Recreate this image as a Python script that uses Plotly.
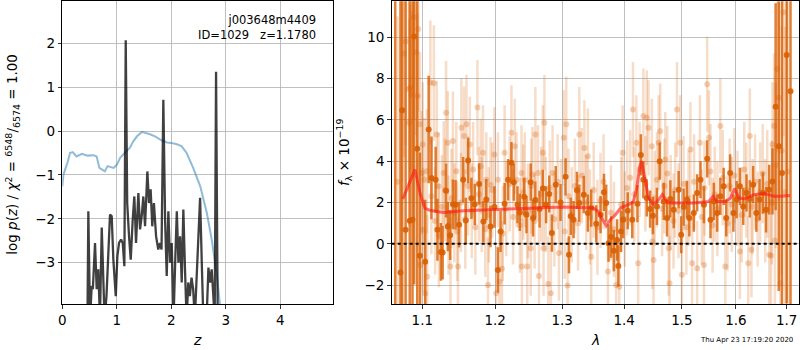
import plotly.graph_objects as go

# ---------------- left panel data ----------------
chi_z = [0.0, 0.02, 0.05, 0.10, 0.14, 0.19, 0.26, 0.31, 0.36, 0.46, 0.57, 0.63, 0.68, 0.78, 0.83,
         0.94, 1.0, 1.06, 1.18, 1.24, 1.3, 1.37, 1.46, 1.55, 1.62, 1.7, 1.82, 1.92, 2.0, 2.1, 2.19,
         2.28, 2.4, 2.53, 2.65, 2.74, 2.83, 2.89, 2.95]
chi_v = [-1.26, -1.0, -0.88, -0.7, -0.5, -0.48, -0.58, -0.54, -0.52, -0.56, -0.55, -0.58, -0.84,
         -0.92, -0.8, -0.84, -0.77, -0.61, -0.46, -0.38, -0.24, -0.12, -0.02, -0.05, -0.08, -0.12,
         -0.21, -0.26, -0.27, -0.3, -0.35, -0.5, -0.84, -1.26, -1.86, -2.47, -3.23, -3.93, -4.7]

pz_z = [0.45, 0.46, 0.477, 0.508, 0.539, 0.56, 0.6, 0.63, 0.66, 0.69, 0.723, 0.752, 0.775, 0.81,
        0.845, 0.875, 0.906, 0.936, 0.98, 1.01, 1.04, 1.077, 1.108, 1.138, 1.163, 1.19, 1.224,
        1.255, 1.291, 1.321, 1.352, 1.395, 1.426, 1.456, 1.486, 1.517, 1.56, 1.59, 1.62, 1.65,
        1.68, 1.72, 1.76, 1.79, 1.82, 1.853, 1.885, 1.915, 1.945, 1.976, 2.007, 2.04, 2.07, 2.1,
        2.13, 2.16, 2.19, 2.22, 2.25, 2.28, 2.31, 2.34, 2.37, 2.4, 2.43, 2.466, 2.495, 2.527,
        2.558, 2.587, 2.64, 2.68, 2.71, 2.74, 2.77, 2.795, 2.82, 2.85, 2.87]
pz_v = [-5.0, -4.5, -1.83, -4.3, -3.53, -3.6, -2.55, -3.6, -3.15, -4.3, -2.2, -3.23, -4.3, -3.76,
        -2.62, -1.9, -1.94, -2.93, -3.76, -2.85, -2.55, -2.47, -2.55, -3.08, 2.07, -1.64, -2.4,
        -2.93, -2.02, -1.49, -2.55, -1.41, -2.24, -1.94, -1.49, -2.17, -0.92, -1.64, -1.33, -2.17,
        -1.64, -2.4, -2.7, -2.55, -2.7, 0.71, -2.02, -3.3, -1.83, -3.0, -2.55, -4.3, -3.0, -1.83,
        -3.0, -2.4, -3.45, -1.79, -3.15, -4.3, -3.45, -3.76, -3.34, -3.6, -4.3, -3.15, -2.55,
        -1.52, -3.0, -4.3, -4.5, -3.11, -3.45, -3.15, -3.76, -4.3, 1.35, -4.3, -5.0]

z_ticks = [0, 1, 2, 3, 4]
logp_ticks = [-3, -2, -1, 0, 1, 2]

# ---------------- right panel data ----------------
lam_dark = [1.065, 1.0717, 1.0739, 1.0783, 1.0836, 1.0872, 1.0894, 1.0934, 1.0969, 1.1038, 1.1084,
            1.1121, 1.1177, 1.1201, 1.1247, 1.1271, 1.1317, 1.1340, 1.1372, 1.1410, 1.1446, 1.1494,
            1.1550, 1.1586, 1.1619, 1.1665, 1.1711, 1.1773, 1.1833, 1.1874, 1.1934, 1.1990, 1.2040,
            1.2078, 1.2137, 1.2187, 1.2236, 1.2270, 1.2325, 1.2359, 1.2424, 1.2458, 1.2521, 1.2557,
            1.2591, 1.2654, 1.2704, 1.2753, 1.2802, 1.2842, 1.2901, 1.2975, 1.3054, 1.3107, 1.3135,
            1.3179, 1.3232, 1.3270, 1.3341, 1.3406, 1.3460, 1.3541, 1.3611, 1.3666, 1.3703, 1.3741,
            1.3784, 1.3828, 1.3882, 1.3903, 1.3946, 1.3984, 1.4060, 1.4136, 1.4224, 1.4282, 1.4325,
            1.4383, 1.4441, 1.4489, 1.4559, 1.4607, 1.4677, 1.4736, 1.4794, 1.4854, 1.4942, 1.4988,
            1.5031, 1.5092, 1.5134, 1.5215, 1.5276, 1.5337, 1.5400, 1.5460, 1.5521, 1.5584, 1.5645,
            1.5705, 1.5768, 1.5816, 1.5890, 1.5952, 1.6013, 1.6076, 1.6141, 1.6204, 1.6267, 1.6332,
            1.6395, 1.6458, 1.6523, 1.6586, 1.6649, 1.6714, 1.6777, 1.6840, 1.6905, 1.7000, 1.7078]
flux_dark = [-4.0, -1.39, 6.46, 0.68, 1.12, 1.17, 10.03, 4.6, -0.58, -0.87, 5.53,
             3.19, 3.1, 0.68, -0.39, -0.42, 2.57, 0.84, 0.42, 1.91, 1.89, 0.92,
             3.1, 1.13, 4.03, 2.2, 1.91, 2.9, 1.08, 2.14, 0.84, 1.78, -1.26,
             0.6, 1.94, 3.1, 3.92, 2.98, 1.89, 1.52, 2.28, 1.41, 2.98, 1.25,
             2.12, 1.68, 2.68, 1.89, 2.41, 0.52, 2.86, 2.0, 3.24, -0.53, 1.33,
             1.17, 2.59, 1.97, 2.38, 1.49, 1.73, 0.97, 1.41, 2.49, 1.97, 0.03,
             0.33, -0.33, 0.19, -1.07, 0.6, 1.17, 1.6, 1.17, 1.94, 4.3, 3.1,
             2.22, 1.68, 1.36, 1.81, 4.0, 2.05, 1.25, 2.17, 1.65, 2.62, 0.44,
             1.78, 2.14, 1.25, 1.49, 2.46, 3.1, 1.89, 4.11, 1.17, 2.05, 1.49,
             2.3, 2.78, 1.25, 3.43, 1.49, 2.14, 2.78, 1.81, 2.46, 2.17, 2.86,
             1.49, 2.14, 2.46, 1.65, 2.62, 3.02, 6.63, 4.72, 3.43, 9.13, 7.38]
err_dark = [20, 14, 12, 14, 12, 14, 12, 9, 5, 3.0, 2.6,
            2.0, 1.6, 1.5, 1.4, 1.3, 1.3, 1.2, 1.2, 1.2, 1.2, 1.1,
            1.1, 1.1, 1.1, 1.0, 1.0, 1.0, 1.0, 1.0, 1.0, 1.0, 1.1,
            1.0, 1.0, 1.0, 1.0, 0.9, 0.9, 0.9, 0.9, 0.9, 0.9, 0.9,
            0.9, 0.9, 0.9, 0.9, 0.9, 0.9, 0.9, 0.9, 0.9, 0.9, 0.9,
            0.9, 0.9, 0.9, 0.9, 0.9, 0.9, 0.9, 0.9, 0.9, 0.9, 0.9,
            1.0, 1.0, 1.0, 1.0, 1.0, 0.9, 0.9, 0.9, 0.9, 1.0, 0.9,
            0.9, 0.9, 0.9, 0.9, 0.9, 0.9, 0.9, 0.9, 0.9, 0.9, 0.9,
            0.9, 0.9, 0.9, 0.9, 0.9, 0.9, 0.9, 0.9, 0.9, 0.9, 0.9,
            0.9, 0.9, 0.9, 0.9, 0.9, 0.9, 0.9, 0.9, 0.9, 0.9, 0.9,
            0.9, 1.0, 1.0, 1.1, 1.2, 1.6, 5, 7, 10, 12, 14]

lam_light = [1.068, 1.0760, 1.0783, 1.0827, 1.0830, 1.0845, 1.0859, 1.0890, 1.0916, 1.0939, 1.0947,
             1.0969, 1.0992, 1.0975, 1.1006, 1.1010, 1.1028, 1.1038, 1.1061, 1.1065, 1.1107, 1.112,
             1.1153, 1.117, 1.1191, 1.1215, 1.122, 1.126, 1.1285, 1.130, 1.1317, 1.1340, 1.135,
             1.1377, 1.139, 1.1410, 1.143, 1.1456, 1.147, 1.1480, 1.152, 1.1526, 1.1563, 1.158,
             1.1596, 1.162, 1.1642, 1.167, 1.1689, 1.172, 1.1749, 1.177, 1.1795, 1.181, 1.1828,
             1.186, 1.1874, 1.1898, 1.191, 1.1934, 1.196, 1.1990, 1.2015, 1.2040, 1.2063, 1.2099,
             1.211, 1.2137, 1.216, 1.221, 1.2236, 1.226, 1.2285, 1.231, 1.236, 1.2384, 1.2390,
             1.241, 1.2433, 1.2470, 1.248, 1.2521, 1.253, 1.2546, 1.258, 1.2591, 1.2631, 1.2645,
             1.268, 1.2704, 1.2715, 1.2728, 1.275, 1.2787, 1.281, 1.2827, 1.2852, 1.288, 1.293,
             1.2951, 1.298, 1.3026, 1.304, 1.3065, 1.3085, 1.310, 1.315, 1.320, 1.325, 1.3270,
             1.331, 1.3351, 1.338, 1.3406, 1.344, 1.3460, 1.350, 1.356, 1.361, 1.366, 1.3731,
             1.378, 1.383, 1.3866, 1.3919, 1.395, 1.3974, 1.401, 1.405, 1.410, 1.4148, 1.417,
             1.4206, 1.4236, 1.426, 1.4325, 1.436, 1.4383, 1.4413, 1.4471, 1.4480, 1.4501, 1.452,
             1.456, 1.4589, 1.4617, 1.465, 1.469, 1.4705, 1.474, 1.4765, 1.4780, 1.480, 1.485,
             1.488, 1.4912, 1.494, 1.4970, 1.5000, 1.503, 1.508, 1.512, 1.5153, 1.5184, 1.522,
             1.5276, 1.5326, 1.536, 1.5400, 1.5410, 1.5460, 1.5492, 1.552, 1.556, 1.560, 1.565,
             1.5705, 1.575, 1.5798, 1.584, 1.588, 1.592, 1.597, 1.603, 1.6076, 1.611, 1.616,
             1.620, 1.6237, 1.6267, 1.6299, 1.632, 1.637, 1.642, 1.647, 1.652, 1.657, 1.661,
             1.6649, 1.6686, 1.670, 1.6714, 1.6746, 1.6763, 1.678, 1.6810, 1.6840, 1.6873, 1.690,
             1.6936, 1.697, 1.702]
flux_light = [3.0, 9.2, 9.79, 7.48, 5.86, 7.56, 7.23, 10.96, 9.26, 7.15, 10.39,
              5.78, 3.43, -1.02, 4.81, 0.68, 3.1, -2.4, 3.51, -1.59, 7.8, 2.3,
              7.77, 1.1, 5.29, 2.78, 0.4, 1.8, 3.43, 2.6, 6.34, 4.89, 0.9,
              -1.1, 2.2, 4.97, 1.5, 3.51, 0.6, -1.1, 2.0, 5.61, 5.21, 1.2,
              5.78, 2.8, 4.81, 1.6, 3.59, 0.8, 6.59, 2.4, 3.75, 1.9, 4.4,
              0.7, 3.1, -1.99, 1.4, 2.86, 2.6, 4.32, -2.39, 3.1, -1.83, -1.2,
              0.5, 4.4, 1.7, 2.9, 5.37, 1.3, 4.72, 3.1, 0.9, 3.43, -1.1,
              2.5, 3.1, -1.1, 1.6, -0.21, 2.8, 3.35, 1.1, 5.29, 3.43, -1.55,
              2.4, 4.4, -0.21, 5.86, 1.9, -1.94, 2.7, -2.39, 3.43, 1.2, 3.0,
              -0.45, 1.8, 5.13, 0.6, 5.78, -2.02, 2.3, 1.4, 2.8, 1.0, 5.29,
              3.3, 4.64, 2.0, 4.24, 1.3, -0.62, 2.6, 0.8, 2.1, 3.0, -1.34,
              1.5, 0.7, -1.99, -2.07, 1.9, 4.4, 1.2, 2.7, 3.2, 6.5, 2.4,
              4.89, -0.94, 3.6, 6.18, 2.9, 6.1, 5.61, 4.72, 0.11, -0.78, 2.2,
              3.1, 4.89, 5.45, 1.7, 2.8, 4.08, 3.4, -0.21, -1.91, 2.0, 1.1,
              2.6, 6.5, 1.6, 4.89, -1.5, 2.9, 0.8, 2.2, 4.56, -0.94, 3.0,
              -1.18, 4.89, 1.3, -1.02, 2.7, 7.72, 5.13, 3.5, 0.9, 2.4, 1.7,
              5.7, 3.2, -1.1, 1.0, 2.8, 1.9, 3.3, 2.2, -0.37, 1.4, 3.6,
              2.6, -0.94, 5.21, -0.29, 1.8, 3.0, 1.2, 2.5, 3.4, 1.6, 2.9,
              -0.53, -0.57, 2.0, 4.81, 5.7, 0.16, 3.8, 8.45, 7.07, -1.91, 4.5,
              11.2, 2.5, 3.5]
err_light = [8, 5, 5, 5, 5, 4, 4, 5, 4, 4, 4,
             3.5, 3, 3, 3, 3, 3, 3, 3, 3, 3, 2.8,
             2.8, 2.6, 2.6, 2.6, 2.5, 2.5, 2.5, 2.5, 2.5, 2.5, 2.4,
             2.4, 2.4, 2.4, 2.4, 2.4, 2.4, 2.4, 2.4, 2.4, 2.4, 2.4,
             2.4, 2.4, 2.3, 2.3, 2.3, 2.3, 2.3, 2.3, 2.3, 2.3, 2.3,
             2.3, 2.3, 2.3, 2.3, 2.3, 2.3, 2.3, 2.3, 2.3, 2.3, 2.3,
             2.3, 2.3, 2.3, 2.3, 2.3, 2.3, 2.3, 2.3, 2.3, 2.3, 2.3,
             2.3, 2.3, 2.3, 2.3, 2.3, 2.3, 2.3, 2.3, 2.3, 2.3, 2.3,
             2.3, 2.3, 2.3, 2.3, 2.3, 2.3, 2.3, 2.3, 2.3, 2.3, 2.3,
             2.3, 2.3, 2.3, 2.3, 2.3, 2.3, 2.3, 2.3, 2.3, 2.3, 2.3,
             2.3, 2.3, 2.3, 2.3, 2.3, 2.3, 2.3, 2.3, 2.3, 2.3, 2.3,
             2.3, 2.3, 2.3, 2.3, 2.3, 2.3, 2.3, 2.3, 2.3, 2.3, 2.3,
             2.3, 2.3, 2.3, 2.3, 2.3, 2.3, 2.3, 2.3, 2.3, 2.3, 2.3,
             2.3, 2.3, 2.3, 2.3, 2.3, 2.3, 2.3, 2.3, 2.3, 2.3, 2.3,
             2.3, 2.3, 2.3, 2.3, 2.3, 2.3, 2.3, 2.3, 2.3, 2.3, 2.3,
             2.3, 2.3, 2.3, 2.3, 2.3, 2.3, 2.3, 2.3, 2.3, 2.3, 2.3,
             2.3, 2.3, 2.3, 2.3, 2.3, 2.3, 2.3, 2.3, 2.3, 2.3, 2.3,
             2.3, 2.3, 2.3, 2.3, 2.3, 2.3, 2.3, 2.4, 2.4, 2.5, 2.6,
             2.8, 3, 3, 3, 3.5, 3.5, 4, 4, 5, 5, 6,
             6, 8, 10]

lam_model = [1.0746, 1.0904, 1.097, 1.1034, 1.110, 1.1276, 1.1562, 1.2028, 1.2506, 1.302, 1.349,
             1.3573, 1.363, 1.3703, 1.377, 1.3855, 1.394, 1.406, 1.4149, 1.4207, 1.4265, 1.4295,
             1.4354, 1.4414, 1.4486, 1.4564, 1.4655, 1.4747, 1.490, 1.521, 1.5488, 1.557, 1.5646,
             1.580, 1.5898, 1.5975, 1.6058, 1.6155, 1.635, 1.6547, 1.6747, 1.688, 1.7067]
flux_model = [2.17, 3.59, 2.46, 1.73, 1.62, 1.52, 1.60, 1.65, 1.70, 1.78, 1.73,
              1.57, 1.25, 0.87, 1.17, 1.41, 1.73, 1.89, 2.0, 2.62, 3.75, 4.0,
              3.1, 2.22, 1.94, 2.05, 2.38, 2.0, 1.97, 1.97, 2.05, 2.3, 2.05,
              2.05, 2.22, 2.67, 2.22, 2.17, 2.38, 2.43, 2.3, 2.3, 2.34]

lam_ticks = [1.1, 1.2, 1.3, 1.4, 1.5, 1.6, 1.7]
flux_ticks = [-2, 0, 2, 4, 6, 8, 10]

ORANGE = "217,95,2"
FONT = "DejaVu Sans"

fig = go.Figure()

fig.add_trace(go.Scatter(x=chi_z, y=chi_v, mode="lines", xaxis="x", yaxis="y",
                         line=dict(color="rgba(31,119,180,0.5)", width=2)))
fig.add_trace(go.Scatter(x=pz_z, y=pz_v, mode="lines", xaxis="x", yaxis="y",
                         line=dict(color="rgba(0,0,0,0.75)", width=2.3)))

fig.add_trace(go.Scatter(x=lam_light, y=flux_light, mode="markers", xaxis="x2", yaxis="y2",
                         marker=dict(color=f"rgba({ORANGE},0.28)", size=6, line=dict(width=0)),
                         error_y=dict(type="data", array=err_light, width=0, thickness=2.5,
                                      color=f"rgba({ORANGE},0.22)")))
fig.add_trace(go.Scatter(x=lam_dark, y=flux_dark, mode="markers", xaxis="x2", yaxis="y2",
                         marker=dict(color=f"rgba({ORANGE},0.9)", size=6, line=dict(width=0)),
                         error_y=dict(type="data", array=err_dark, width=0, thickness=2.5,
                                      color=f"rgba({ORANGE},0.8)")))
fig.add_trace(go.Scatter(x=lam_model, y=flux_model, mode="lines", xaxis="x2", yaxis="y2",
                         line=dict(color="rgba(255,20,20,0.6)", width=3)))

axis_common = dict(showgrid=True, gridcolor="#b0b0b0", gridwidth=0.8, zeroline=False,
                   showline=True, mirror=True, linecolor="black", linewidth=1,
                   ticks="outside", ticklen=3.5, tickwidth=0.8, tickcolor="black",
                   tickfont=dict(family=FONT, size=13.5, color="black"))

fig.update_layout(
    width=800, height=350,
    margin=dict(l=0, r=0, t=0, b=0, autoexpand=False),
    paper_bgcolor="white", plot_bgcolor="white",
    showlegend=False, hovermode=False,
    font=dict(family=FONT, color="black"),
    xaxis=dict(domain=[0.0779, 0.4166], range=[0, 4.97], tickvals=z_ticks, anchor="y", **axis_common),
    yaxis=dict(domain=[0.1314, 0.9963], range=[-3.94, 2.955], tickvals=logp_ticks, anchor="x", **axis_common),
    xaxis2=dict(domain=[0.4896, 0.9991], type="log", range=[0.02551, 0.23699],
                tickvals=lam_ticks, ticktext=[str(v) for v in lam_ticks], anchor="y2", **axis_common),
    yaxis2=dict(domain=[0.1314, 0.9963], range=[-2.91, 11.73], tickvals=flux_ticks, anchor="x2", **axis_common),
)

fig.add_shape(type="line", xref="x2 domain", yref="y2", x0=0, x1=1, y0=0, y1=0,
              line=dict(color="black", width=2, dash="dot"), layer="above")

ann = [
    dict(text="<i>z</i>", x=0.2472, y=0.028, font=dict(size=14)),
    dict(text="<i>λ</i>", x=0.7444, y=0.028, font=dict(size=14)),
    dict(text="log <i>p</i>(<i>z</i>) / <i>χ</i><sup>2</sup> = <sup>6548</sup>/<sub>6574</sub> = 1.00",
         x=0.016, y=0.56, textangle=-90, font=dict(size=13.5)),
    dict(text="<i>f</i><sub>λ</sub> × 10<sup>−19</sup>", x=0.43, y=0.563, textangle=-90,
         font=dict(size=13.5)),
    dict(text="j003648m4409<br>ID=1029   z=1.1780", x=318 / 800, y=(350 - 11) / 350,
         xanchor="right", yanchor="top", align="right", font=dict(size=11.5)),
    dict(text="Thu Apr 23 17:19:20 2020", x=746.5 / 800, y=(350 - 340) / 350, font=dict(size=7)),
]
for a in ann:
    a.setdefault("xanchor", "center")
    a.setdefault("yanchor", "middle")
    fig.add_annotation(xref="paper", yref="paper", showarrow=False, **a)

fig.write_html("out.html", config=dict(displayModeBar=False, staticPlot=True),
               post_script="document.body.style.margin='0';document.body.style.padding='0';"
                           "document.body.style.overflow='hidden';")
